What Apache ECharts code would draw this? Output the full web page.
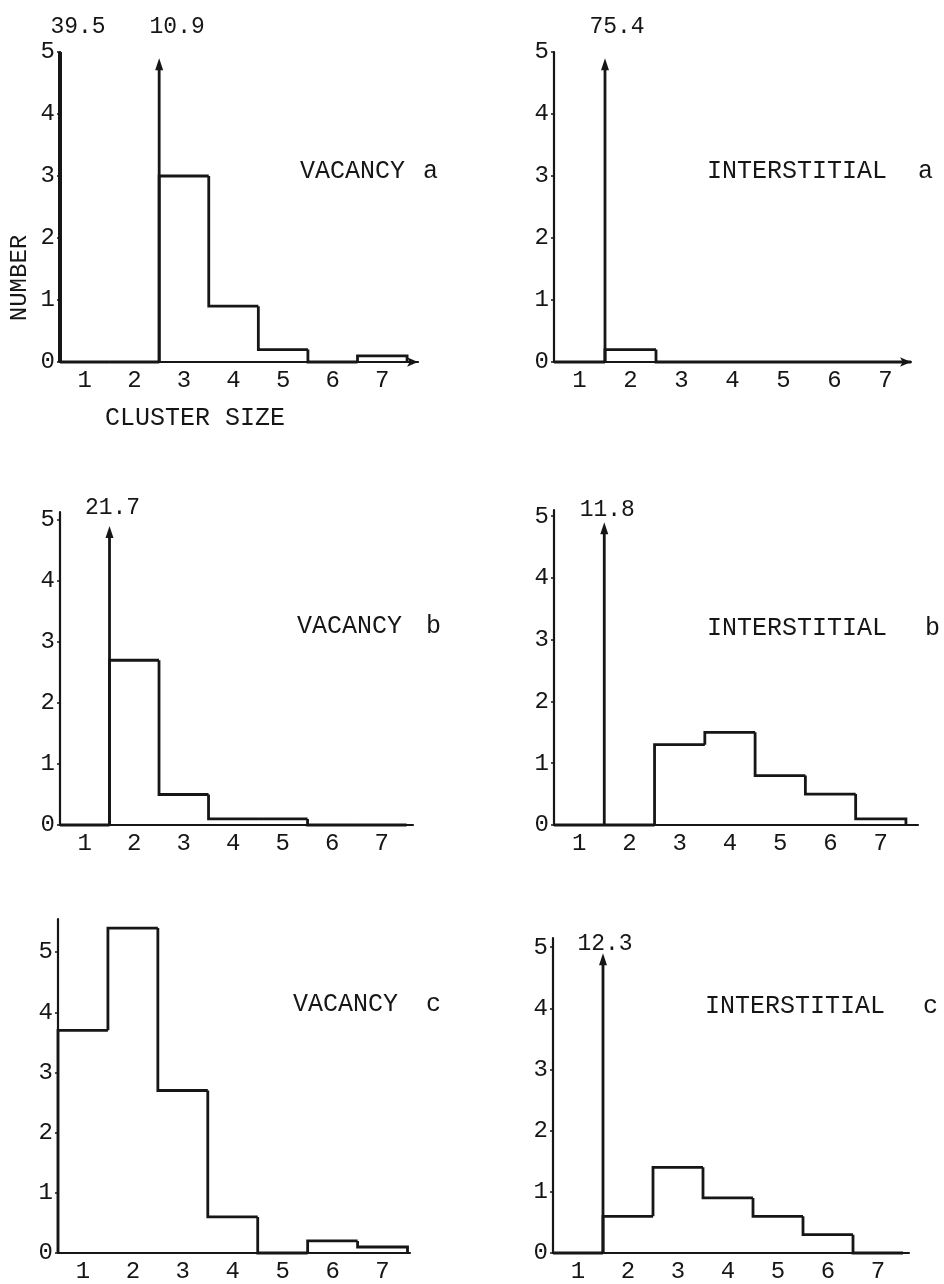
<!DOCTYPE html>
<html>
<head>
<meta charset="utf-8">
<script src="https://cdn.jsdelivr.net/npm/echarts@6/dist/echarts.min.js"></script>
<style>
  html, body { margin: 0; padding: 0; background: #fff; }
  #chart { width: 944px; height: 1284px; }
</style>
</head>
<body>
<div id="chart"></div>
<script>
// Cluster-size distributions (number of clusters per size bin)
const clusterSizes = [1, 2, 3, 4, 5, 6, 7];
const yTicks = [0, 1, 2, 3, 4, 5];

const vacancyA      = [39.5, 10.9, 3.0, 0.9, 0.2, 0,   0.1];
const interstitialA = [75.4, 0.2,  0,   0,   0,   0,   0];
const vacancyB      = [21.7, 2.7,  0.5, 0.1, 0.1, 0,   0];
const interstitialB = [11.8, 0,    1.3, 1.5, 0.8, 0.5, 0.1];
const vacancyC      = [3.7,  5.4,  2.7, 0.6, 0,   0.2, 0.1];
const interstitialC = [12.3, 0.6,  1.4, 0.9, 0.6, 0.3, 0];

const INK = '#161616';
const MONO = '"Liberation Mono", "DejaVu Sans Mono", monospace';

// Layout of the six histogram panels
const panels = [
  { values: vacancyA,      grid: { left: 60,  top: 52,  width: 358, height: 310 }, xMax: 7.72, yMax: 5,    arrow: true,  labelLevel: 5.4,  labelDx: 18 },
  { values: interstitialA, grid: { left: 554, top: 52,  width: 357, height: 310 }, xMax: 7.5,  yMax: 5,    arrow: true,  labelLevel: 5.4,  labelDx: 12 },
  { values: vacancyB,      grid: { left: 60,  top: 512, width: 353, height: 313 }, xMax: 7.63, yMax: 5.13, arrow: false, labelLevel: 5.2,  labelDx: 3 },
  { values: interstitialB, grid: { left: 554, top: 510, width: 364, height: 315 }, xMax: 7.74, yMax: 5.1,  arrow: false, labelLevel: 5.1,  labelDx: 3 },
  { values: vacancyC,      grid: { left: 58,  top: 919, width: 352, height: 335 }, xMax: 7.55, yMax: 5.55, arrow: false, labelLevel: 5.3,  labelDx: 3 },
  { values: interstitialC, grid: { left: 553, top: 938, width: 356, height: 315 }, xMax: 7.62, yMax: 5.15, arrow: false, labelLevel: 5.05, labelDx: 2 }
];

const SPIKE_TIP = 4.9;

function makeRenderItem(panel) {
  const vals = panel.values;
  const cap = panel.yMax;
  const off = v => v > cap;
  const drawn = v => (off(v) ? 0 : v);
  return function (params, api) {
    const i = params.dataIndex;
    const c = api.value(0);
    const v = api.value(1);
    const h = drawn(v);
    const prev = i === 0 ? 0 : drawn(vals[i - 1]);
    const pts = [
      api.coord([c - 0.5, prev]),
      api.coord([c - 0.5, h]),
      api.coord([c + 0.5, h])
    ];
    if (i === vals.length - 1) pts.push(api.coord([c + 0.5, 0]));
    const children = [{
      type: 'polyline',
      shape: { points: pts },
      style: { stroke: INK, lineWidth: 2.8, fill: null, lineJoin: 'miter' }
    }];
    if (off(v)) {
      // off-scale bins: a vertical arrow on the bin edge next to an on-scale bin
      const nextOff = i < vals.length - 1 && off(vals[i + 1]);
      const edge = nextOff ? c - 0.5 : c + 0.5;
      const onAxis = edge <= 0.5;
      const base = api.coord([edge, 0]);
      const tip = api.coord([edge, onAxis ? 5 : SPIKE_TIP]);
      children.push({
        type: 'line',
        shape: { x1: base[0], y1: base[1], x2: tip[0], y2: onAxis ? tip[1] : tip[1] + 6 },
        style: { stroke: INK, lineWidth: onAxis ? 4 : 2.8 }
      });
      if (!onAxis) {
        children.push({
          type: 'polygon',
          shape: { points: [[tip[0], tip[1]], [tip[0] - 4, tip[1] + 12], [tip[0] + 4, tip[1] + 12]] },
          style: { fill: INK }
        });
      }
      const lp = api.coord([edge, panel.labelLevel]);
      children.push({
        type: 'text',
        x: lp[0] + panel.labelDx,
        y: lp[1],
        style: {
          text: String(v),
          font: '23px ' + MONO,
          fill: INK,
          align: 'center',
          verticalAlign: 'middle'
        }
      });
    }
    return { type: 'group', children: children };
  };
}

const grids = [], xAxes = [], yAxes = [], series = [];
panels.forEach((p, k) => {
  grids.push(Object.assign({ containLabel: false }, p.grid));
  xAxes.push({
    type: 'value', gridIndex: k, min: 0.5, max: p.xMax,
    axisLine: {
      show: true, onZero: false,
      symbol: p.arrow ? ['none', 'arrow'] : ['none', 'none'],
      symbolSize: [7, 11],
      lineStyle: { color: INK, width: 2.2 }
    },
    axisTick: { show: false },
    splitLine: { show: false },
    axisLabel: {
      customValues: clusterSizes,
      fontFamily: MONO, fontSize: 24, color: INK, margin: 7
    }
  });
  yAxes.push({
    type: 'value', gridIndex: k, min: 0, max: p.yMax,
    axisLine: { show: true, onZero: false, lineStyle: { color: INK, width: 2.2 } },
    axisTick: { show: true, customValues: yTicks, length: 3, lineStyle: { color: INK, width: 1.5 } },
    splitLine: { show: false },
    axisLabel: {
      customValues: yTicks,
      fontFamily: MONO, fontSize: 24, color: INK, margin: 5
    }
  });
  series.push({
    type: 'custom',
    xAxisIndex: k, yAxisIndex: k,
    clip: false,
    z: 5,
    data: clusterSizes.map((c, i) => [c, p.values[i]]),
    renderItem: makeRenderItem(p)
  });
});

function label(text, x, y, extra) {
  return Object.assign({
    type: 'text', x: x, y: y,
    style: { text: text, font: '25px ' + MONO, fill: INK, verticalAlign: 'middle' }
  }, extra || {});
}

const graphic = [
  label('VACANCY', 300, 171), label('a', 423, 171),
  label('INTERSTITIAL', 707, 171), label('a', 918, 171),
  label('VACANCY', 297, 626), label('b', 426, 626),
  label('INTERSTITIAL', 707, 628), label('b', 925, 628),
  label('VACANCY', 293, 1004), label('c', 426, 1004),
  label('INTERSTITIAL', 705, 1006), label('c', 923, 1006),
  {
    type: 'text', x: 20, y: 278, rotation: Math.PI / 2,
    style: { text: 'NUMBER', font: '24px ' + MONO, fill: INK, align: 'center', verticalAlign: 'middle' }
  },
  {
    type: 'text', x: 195, y: 418,
    style: { text: 'CLUSTER SIZE', font: '25px ' + MONO, fill: INK, align: 'center', verticalAlign: 'middle' }
  }
];

const chart = echarts.init(document.getElementById('chart'), null, { renderer: 'canvas' });
chart.setOption({
  backgroundColor: '#ffffff',
  animation: false,
  grid: grids,
  xAxis: xAxes,
  yAxis: yAxes,
  series: series,
  graphic: graphic
});
</script>
</body>
</html>
